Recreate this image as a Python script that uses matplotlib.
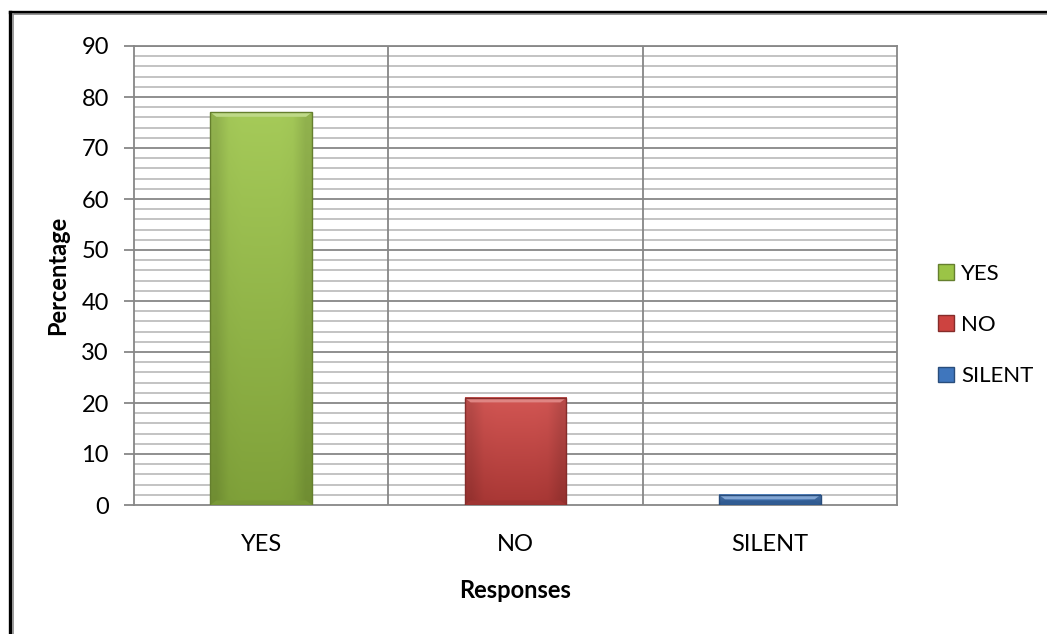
import numpy as np
import matplotlib
matplotlib.use("Agg")
import matplotlib.pyplot as plt
from matplotlib.patches import Patch, Polygon
from matplotlib.lines import Line2D
from matplotlib.colors import to_rgb

# Survey responses
categories = ["YES", "NO", "SILENT"]
percentages = [77, 21, 2]
bar_colors = ["#9bc446", "#cd4340", "#3f76bd"]
y_ticks = [0, 10, 20, 30, 40, 50, 60, 70, 80, 90]

plt.rcParams["font.family"] = ["Lato", "DejaVu Sans"]

fig = plt.figure(figsize=(10.47, 6.34), dpi=100)
W, H = 1047, 634
ax = fig.add_axes([134 / W, 1 - 505 / H, (897 - 134) / W, (505 - 46) / H])

x = np.arange(len(categories))
ax.set_xlim(-0.5, len(categories) - 0.5)
ax.set_ylim(0, 90)

# Grid: minor every 2, major every 10, plus category separators
for v in np.arange(2, 90, 2):
    if v % 10:
        ax.axhline(v, color="#b3b3b3", lw=1.1, zorder=0)
for v in y_ticks[1:]:
    ax.axhline(v, color="#878787", lw=1.3, zorder=0)
for xv in x[:-1] + 0.5:
    ax.axvline(xv, color="#878787", lw=1.3, zorder=0)
for s in ax.spines.values():
    s.set_color("#878787")
    s.set_linewidth(1.3)

bars = ax.bar(x, percentages, width=0.4, color=bar_colors, zorder=3,
              edgecolor="none")


def shade(c, f):
    r = np.array(to_rgb(c))
    return np.clip(r * f, 0, 1) if f < 1 else np.clip(r + (1 - r) * (f - 1), 0, 1)


# Bevelled bar faces: vertical gradient, darker sides and a light top band
px_per_unit = (505 - 46) / 90
px_per_cat = (897 - 134) / 3
for b, c in zip(bars, bar_colors):
    x0, w, h = b.get_x(), b.get_width(), b.get_height()
    n = 64
    t = np.linspace(0, 1, n)[:, None]  # 0 bottom -> 1 top
    top = shade(c, 1.1)
    bot = shade(c, 0.82)
    grad = bot[None, None, :] * (1 - t[..., None]) + top[None, None, :] * t[..., None]
    img = np.repeat(grad, 8, axis=1)
    # darken the left/right edges slightly
    xs = np.linspace(0, 1, 8)
    edge = 1 - 0.12 * (np.abs(xs - 0.5) * 2) ** 6
    img = img * edge[None, :, None]
    ax.imshow(img, extent=[x0, x0 + w, 0, h], origin="lower", aspect="auto",
              zorder=3.2, interpolation="bilinear")
    bev_y = min(4.5 / px_per_unit, h * 0.45)
    bev_x = 6 / px_per_cat
    ax.add_patch(Polygon([[x0, h], [x0 + w, h], [x0 + w - bev_x, h - bev_y],
                          [x0 + bev_x, h - bev_y]], closed=True,
                         facecolor=shade(c, 1.35), edgecolor="none", zorder=3.4))
    ax.add_patch(Polygon([[x0, 0], [x0 + w, 0], [x0 + w - bev_x, bev_y],
                          [x0 + bev_x, bev_y]], closed=True,
                         facecolor=shade(c, 0.78), edgecolor="none", zorder=3.4))
    ax.add_patch(plt.Rectangle((x0, 0), w, h, facecolor="none",
                               edgecolor=shade(c, 0.65), lw=1.0, zorder=3.5))
ax.set_xlim(-0.5, len(categories) - 0.5)
ax.set_ylim(0, 90)

ax.set_yticks(y_ticks)
ax.set_xticks(x)
ax.set_xticklabels(categories)
ax.tick_params(axis="y", length=7, width=1.3, color="#878787", pad=11,
               labelsize=17)
ax.tick_params(axis="x", length=0, pad=21, labelsize=17)

ax.set_xlabel("Responses", fontsize=17, fontweight="bold", labelpad=17)
ax.set_ylabel("Percentage", fontsize=17, fontweight="bold", labelpad=9)

handles = [Patch(facecolor=c, edgecolor=shade(c, 0.65)) for c in bar_colors]
ax.legend(handles, categories, loc="center left",
          bbox_to_anchor=(938 / W, 1 - 325 / H), bbox_transform=fig.transFigure,
          frameon=False, fontsize=16, handlelength=0.7, handleheight=0.7,
          handletextpad=0.35, labelspacing=1.4, borderpad=0, borderaxespad=0)

# Outer frame along the top and left edges
fig.add_artist(Line2D([9.5 / W, 1], [1 - 11.5 / H, 1 - 11.5 / H],
                      color="black", lw=2.4, transform=fig.transFigure))
fig.add_artist(Line2D([9.5 / W, 9.5 / W], [0, 1 - 11.5 / H],
                      color="black", lw=2.4, transform=fig.transFigure))
fig.add_artist(Line2D([13 / W, 1], [1 - 14 / H, 1 - 14 / H],
                      color="#8a8a8a", lw=1.2, transform=fig.transFigure))
fig.add_artist(Line2D([12.5 / W, 12.5 / W], [0, 1 - 14 / H],
                      color="#8a8a8a", lw=1.2, transform=fig.transFigure))

fig.savefig("out.png", dpi=100)
